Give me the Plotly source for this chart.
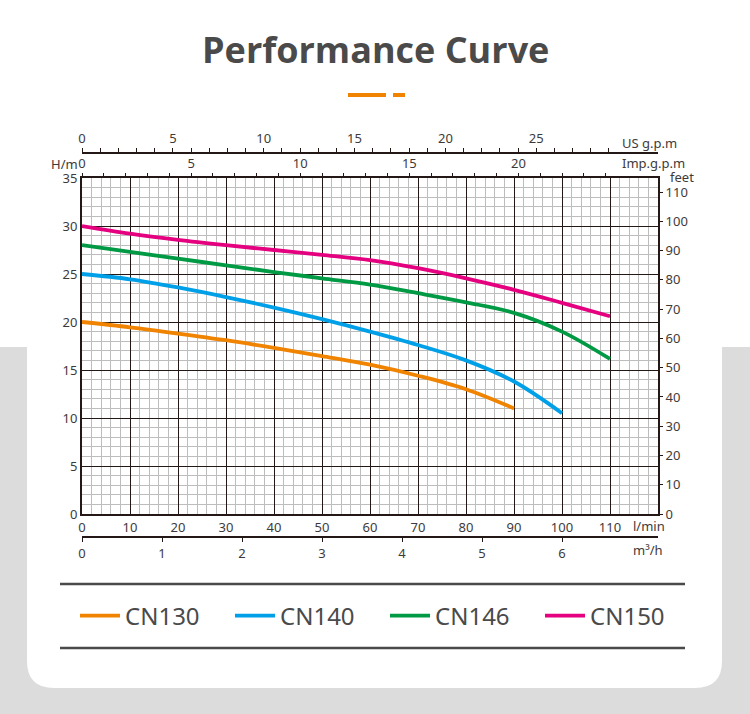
import plotly.graph_objects as go

# ---------------- data (flow in l/min, head in m) ----------------
cn130_q = [0, 10, 20, 30, 40, 50, 60, 70, 80, 90]
cn130_h = [20.0, 19.45, 18.8, 18.1, 17.3, 16.45, 15.55, 14.4, 13.0, 11.0]

cn140_q = [0, 10, 20, 30, 40, 50, 60, 70, 80, 90, 100]
cn140_h = [25.0, 24.45, 23.6, 22.6, 21.5, 20.3, 19.0, 17.6, 16.0, 13.8, 10.5]

cn146_q = [0, 10, 20, 30, 40, 50, 60, 70, 80, 90, 100, 110]
cn146_h = [28.0, 27.3, 26.6, 25.9, 25.2, 24.55, 23.9, 23.0, 22.05, 20.95, 19.0, 16.15]

cn150_q = [0, 10, 20, 30, 40, 50, 60, 70, 80, 90, 100, 110]
cn150_h = [30.0, 29.2, 28.55, 28.0, 27.5, 27.0, 26.45, 25.6, 24.55, 23.35, 22.0, 20.6]

series_names = ["CN130", "CN140", "CN146", "CN150"]
series_colors = ["#F08300", "#00A0E9", "#009944", "#E4007F"]

lpm_ticks = list(range(0, 120, 10))
head_ticks = list(range(0, 40, 5))
feet_ticks = list(range(0, 120, 10))
imp_ticks = list(range(0, 25))
us_ticks = list(range(0, 30))
m3h_ticks = list(range(0, 7))

# unit conversions
LPM_MAX = 120
H_MAX = 35
IMP_GAL = 4.54609
US_GAL = 3.78541

W, H = 750, 714
def px(x):
    return x / W
def py(y):
    return 1 - y / H

INK = "#231815"
TXT = "#3e3a39"
FONT = "Noto Sans"

fig = go.Figure()
data = [(cn130_q, cn130_h), (cn140_q, cn140_h), (cn146_q, cn146_h), (cn150_q, cn150_h)]
for (q, h), name, col in zip(data, series_names, series_colors):
    fig.add_trace(go.Scatter(x=q, y=h, mode="lines", name=name,
                             line=dict(color=col, width=3.8, shape="spline", smoothing=1.0),
                             hoverinfo="skip"))

# invisible traces to activate secondary axes
for xa, ya in (("x2", "y"), ("x3", "y"), ("x4", "y"), ("x", "y2")):
    fig.add_trace(go.Scatter(x=[0], y=[0], xaxis=xa, yaxis=ya, showlegend=False,
                             mode="markers", marker=dict(opacity=0), hoverinfo="skip"))

tickfont = dict(family=FONT, size=13, color=TXT)
xdom = [px(82), px(658)]
ydom = [py(514), py(178)]

fig.update_layout(
    template="none",
    width=W, height=H,
    margin=dict(l=0, r=0, t=0, b=0, pad=0),
    paper_bgcolor="white",
    plot_bgcolor="rgba(0,0,0,0)",
    font=dict(family=FONT, color=TXT),
    showlegend=True,
    legend=dict(orientation="h", x=px(75), y=py(616), xanchor="left", yanchor="middle",
                font=dict(family=FONT, size=24, color="#4a4a4a"),
                entrywidth=100, entrywidthmode="pixels", itemwidth=40,
                bgcolor="rgba(0,0,0,0)", borderwidth=0, tracegroupgap=0),
    xaxis=dict(domain=xdom, range=[0, LPM_MAX], tickvals=lpm_ticks, ticks="",
               showline=True, linecolor=INK, linewidth=2, mirror=True,
               showgrid=True, gridcolor=INK, gridwidth=1.2,
               minor=dict(dtick=2, showgrid=True, gridcolor="#bdbdbd", gridwidth=1),
               zeroline=False, tickfont=tickfont, anchor="y", automargin=False),
    yaxis=dict(domain=ydom, range=[0, H_MAX], tickvals=head_ticks, ticks="",
               showline=True, linecolor=INK, linewidth=2, mirror=True,
               showgrid=True, gridcolor=INK, gridwidth=1.2,
               minor=dict(dtick=1, showgrid=True, gridcolor="#bdbdbd", gridwidth=1),
               zeroline=False, tickfont=tickfont, anchor="x", automargin=False),
    yaxis2=dict(overlaying="y", side="right", anchor="x", range=[0, H_MAX / 0.3048],
                tickvals=feet_ticks, ticks="outside", ticklen=4, tickcolor=INK,
                showgrid=False, zeroline=False, showline=False, tickfont=tickfont,
                automargin=False),
    xaxis2=dict(overlaying="x", side="top", anchor="y", range=[0, LPM_MAX / IMP_GAL],
                tickvals=imp_ticks,
                ticktext=[str(v) if v % 5 == 0 else "" for v in imp_ticks],
                ticks="outside", ticklen=4, tickcolor=INK, showgrid=False,
                zeroline=False, showline=False, tickfont=tickfont, automargin=False),
    xaxis3=dict(overlaying="x", side="top", anchor="free", position=py(153),
                range=[0, LPM_MAX / US_GAL], tickvals=us_ticks,
                ticktext=[str(v) if v % 5 == 0 else "" for v in us_ticks],
                ticks="outside", ticklen=4, tickcolor=INK, showgrid=False,
                zeroline=False, showline=True, linecolor=INK, linewidth=2,
                tickfont=tickfont, automargin=False),
    xaxis4=dict(overlaying="x", side="bottom", anchor="free", position=py(537),
                range=[0, LPM_MAX * 0.06], tickvals=m3h_ticks,
                ticks="outside", ticklen=4, tickcolor=INK, showgrid=False,
                zeroline=False, showline=True, linecolor=INK, linewidth=2,
                tickfont=tickfont, automargin=False),
)

# ---------------- background decoration ----------------
shapes = []
shapes.append(dict(type="rect", xref="paper", yref="paper", x0=0, x1=1, y0=0, y1=py(347),
                   fillcolor="#dcdcdc", line=dict(width=0), layer="below"))
r = 27
l, rt, bot = 27, 722, 688
path = (f"M {px(l)},{py(0)} L {px(rt)},{py(0)} L {px(rt)},{py(bot - r)} "
        f"Q {px(rt)},{py(bot)} {px(rt - r)},{py(bot)} L {px(l + r)},{py(bot)} "
        f"Q {px(l)},{py(bot)} {px(l)},{py(bot - r)} Z")
shapes.append(dict(type="path", xref="paper", yref="paper", path=path,
                   fillcolor="white", line=dict(width=0), layer="below"))
# title dashes
shapes.append(dict(type="rect", xref="paper", yref="paper", x0=px(348), x1=px(386),
                   y0=py(97), y1=py(93), fillcolor="#F08300", line=dict(width=0)))
shapes.append(dict(type="rect", xref="paper", yref="paper", x0=px(393), x1=px(405),
                   y0=py(97), y1=py(93), fillcolor="#F08300", line=dict(width=0)))
# legend separators
for yy in (584, 648):
    shapes.append(dict(type="line", xref="paper", yref="paper", x0=px(60), x1=px(685),
                       y0=py(yy), y1=py(yy), line=dict(color="#4a4a4a", width=2.5)))
fig.update_layout(shapes=shapes)

# ---------------- texts ----------------
ann = []
ann.append(dict(text="<b>Performance Curve</b>", x=0.5, y=py(50), xref="paper", yref="paper",
                showarrow=False, font=dict(family="Open Sans", size=36, color="#4a4a4a"),
                xanchor="center", yanchor="middle"))
def unit(text, x, y, anchor="left"):
    ann.append(dict(text=text, x=px(x), y=py(y), xref="paper", yref="paper", showarrow=False,
                    font=tickfont, xanchor=anchor, yanchor="middle"))
unit("US g.p.m", 620, 143)
unit("Imp.g.p.m", 620, 163)
unit("feet", 668, 177)
unit("H/m", 80, 164, "right")
unit("l/min", 631, 526)
unit("m³/h", 631, 550)
fig.update_layout(annotations=ann)

fig.write_html("out.html")
